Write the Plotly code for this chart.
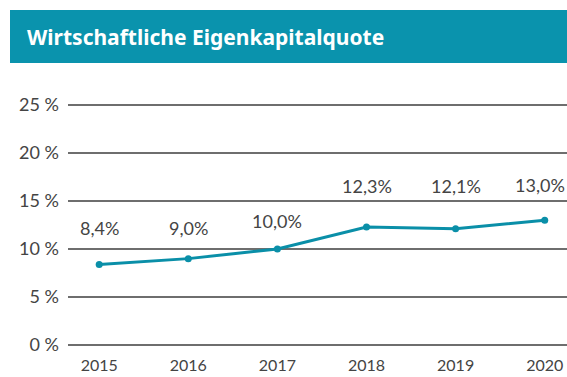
import plotly.graph_objects as go

years = ["2015", "2016", "2017", "2018", "2019", "2020"]
quote = [8.4, 9.0, 10.0, 12.3, 12.1, 13.0]
value_labels = ["8,4%", "9,0%", "10,0%", "12,3%", "12,1%", "13,0%"]
y_ticks = [0, 5, 10, 15, 20, 25]
y_tick_labels = ["0 %", "5 %", "10 %", "15 %", "20 %", "25 %"]

TEAL = "#0a93ad"
LINE = "#0a8fa8"
TEXT = "#444444"
FONT = "Lato"

W, H = 567, 377
ML, MR, MT, MB = 68, 0, 102, 29
PW, PH = W - ML - MR, H - MT - MB

def px_x(p):
    return (p - ML) / PW

def px_y(p):
    return (H - MB - p) / PH

fig = go.Figure()
fig.add_trace(go.Scatter(
    x=years, y=quote, mode="lines+markers",
    line=dict(color=LINE, width=3),
    marker=dict(color=LINE, size=7),
    hoverinfo="skip", showlegend=False,
))

# value labels above each point (category axis: annotations use the index)
label_shift = [36, 31, 28, 41, 43, 35]
label_xshift = [0, 0, 0, 0, 0, -5]
for i, (y, t, s, xs) in enumerate(zip(quote, value_labels, label_shift, label_xshift)):
    fig.add_annotation(x=i, y=y, text=t, showarrow=False, yshift=s, xshift=xs,
                       font=dict(family=FONT, size=18, color=TEXT))

# title band
fig.add_shape(type="rect", xref="paper", yref="paper",
              x0=px_x(10), x1=1.0, y0=px_y(63), y1=px_y(10),
              fillcolor=TEAL, line=dict(width=0), layer="below")
fig.add_annotation(xref="paper", yref="paper", x=px_x(25), y=px_y(37),
                   xanchor="left", yanchor="middle", showarrow=False,
                   text="<b>Wirtschaftliche Eigenkapitalquote</b>",
                   font=dict(family="Noto Sans", size=21, color="white"))

fig.update_layout(
    width=W, height=H,
    margin=dict(l=ML, r=MR, t=MT, b=MB, pad=0),
    paper_bgcolor="white", plot_bgcolor="white",
    xaxis=dict(type="category", range=[-0.35, 5.25], showgrid=False,
               showline=False, zeroline=False, ticks="",
               tickfont=dict(family=FONT, size=16, color=TEXT), ticklabelstandoff=6),
    yaxis=dict(range=[-0.3, 25.3], tickvals=y_ticks, ticktext=y_tick_labels,
               showgrid=True, gridcolor="#6e6e6e", gridwidth=1.5,
               zeroline=False, showline=False, ticks="",
               tickfont=dict(family=FONT, size=18, color=TEXT), ticklabelstandoff=8),
)

fig.write_html("out.html")
